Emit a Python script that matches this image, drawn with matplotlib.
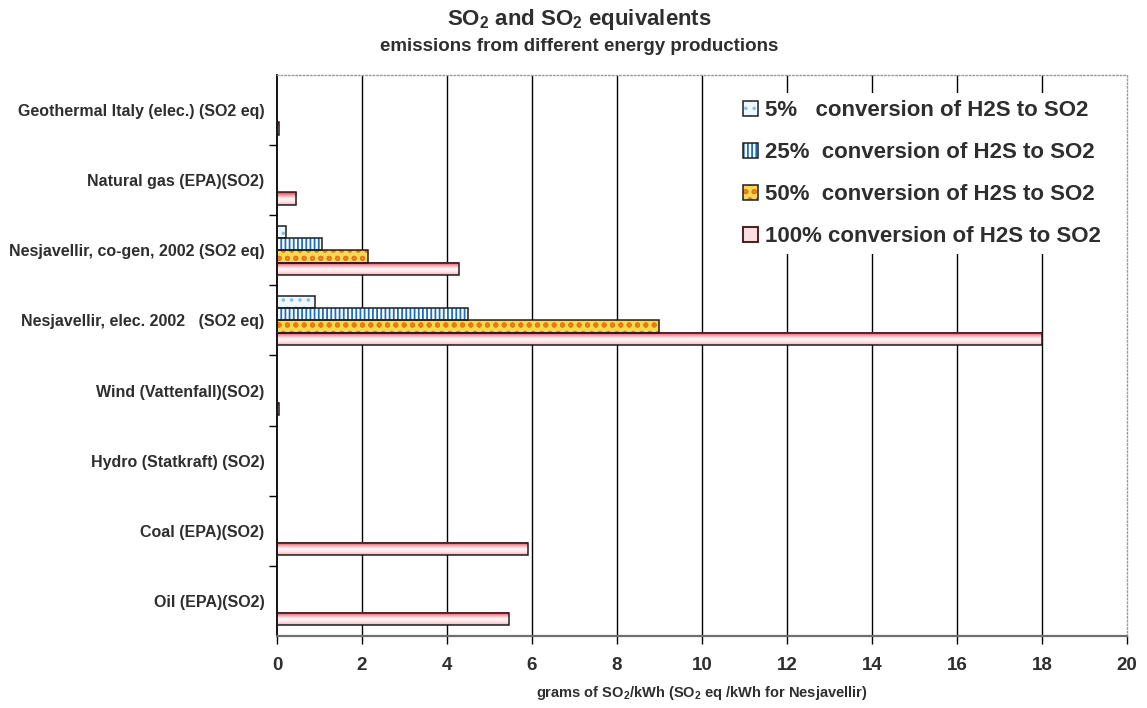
import numpy as np
import matplotlib
matplotlib.use("Agg")
import matplotlib.pyplot as plt
from matplotlib.patches import Patch
from matplotlib.colors import LinearSegmentedColormap

# ---- data -----------------------------------------------------------------
categories = [
    "Geothermal Italy (elec.) (SO2 eq)",
    "Natural gas (EPA)(SO2)",
    "Nesjavellir, co-gen, 2002 (SO2 eq)",
    "Nesjavellir, elec. 2002   (SO2 eq)",
    "Wind (Vattenfall)(SO2)",
    "Hydro (Statkraft) (SO2)",
    "Coal (EPA)(SO2)",
    "Oil (EPA)(SO2)",
]
conv_5 = [None, None, 0.21, 0.90, None, None, None, None]
conv_25 = [None, None, 1.07, 4.50, None, None, None, None]
conv_50 = [None, None, 2.14, 9.00, None, None, None, None]
conv_100 = [0.04, 0.45, 4.28, 18.0, 0.04, None, 5.90, 5.45]
series_labels = [
    "5%   conversion of H2S to SO2",
    "25%  conversion of H2S to SO2",
    "50%  conversion of H2S to SO2",
    "100% conversion of H2S to SO2",
]
x_ticks = [0, 2, 4, 6, 8, 10, 12, 14, 16, 18, 20]

# ---- style ----------------------------------------------------------------
plt.rcParams["font.family"] = ["Liberation Sans", "DejaVu Sans"]
plt.rcParams["font.weight"] = "bold"
plt.rcParams["axes.labelweight"] = "bold"
plt.rcParams["mathtext.fontset"] = "custom"
plt.rcParams["mathtext.rm"] = "Liberation Sans:bold"
plt.rcParams["mathtext.it"] = "Liberation Sans:bold"
plt.rcParams["mathtext.bf"] = "Liberation Sans:bold"
plt.rcParams["hatch.linewidth"] = 1.3
TXT = "#2e2e2e"

fig = plt.figure(figsize=(11.47, 7.08), dpi=100)
ax = fig.add_axes([0.2415, 0.1017, 0.741, 0.7925])

n = len(categories)
ypos = np.arange(n)
h = 0.175
offsets = [-1.5 * h, -0.5 * h, 0.5 * h, 1.5 * h]

hatched = [
    (conv_5, "#eef7fb", "..", "#86c0de"),
    (conv_25, "white", "||||", "#1b6fc2"),
    (conv_50, "#f8d84c", "oo", "#e47a1c"),
]

pink = LinearSegmentedColormap.from_list(
    "pinkband",
    [(0.0, "#e2404e"), (0.2, "#f08c96"), (0.5, "#fff6f7"),
     (0.78, "#fde3e6"), (1.0, "#f2aab2")],
)
grad = np.linspace(0, 1, 64).reshape(-1, 1)

for (vals, face, hatch, hcol), off in zip(hatched, offsets[:3]):
    for yc, v in zip(ypos, vals):
        if v is None:
            continue
        ax.barh(yc + off, v, height=h, color=face, hatch=hatch,
                edgecolor=hcol, linewidth=0, zorder=2)
        ax.barh(yc + off, v, height=h, fill=False, edgecolor="#1e1e1e",
                linewidth=1.1, zorder=3)

for yc, v in zip(ypos, conv_100):
    if v is None:
        continue
    yy = yc + offsets[3]
    ax.imshow(grad, cmap=pink, aspect="auto", origin="upper",
              extent=(0, v, yy + h / 2, yy - h / 2), zorder=2,
              interpolation="bilinear")
    ax.barh(yy, v, height=h, fill=False, edgecolor="#1e1e1e",
            linewidth=1.1, zorder=3)

# vertical gridlines
ax.vlines(x_ticks[1:-1], -0.5, n - 0.5, color="black", linewidth=1.0,
          zorder=1)

ax.set_xlim(x_ticks[0], x_ticks[-1])
ax.set_ylim(n - 0.5, -0.5)

ax.set_xticks(x_ticks)
ax.set_xticklabels([str(t) for t in x_ticks])
ax.tick_params(axis="x", direction="out", length=6, width=1, color="black",
               labelsize=13.5, pad=9, labelcolor=TXT)
ax.set_yticks(ypos)
ax.set_yticklabels(categories)
ax.set_yticks(np.arange(0.5, n - 1, 1.0), minor=True)
ax.tick_params(axis="y", which="major", length=0, pad=9, labelsize=11.5,
               labelcolor=TXT)
ax.tick_params(axis="y", which="minor", direction="out", length=6, width=1,
               color="black")

ax.spines["left"].set_color("black")
ax.spines["left"].set_linewidth(1.3)
ax.spines["bottom"].set_color("#6f6f6f")
ax.spines["bottom"].set_linewidth(1.6)
for s in ("top", "right"):
    ax.spines[s].set_color("#9a9a9a")
    ax.spines[s].set_linestyle(":")
    ax.spines[s].set_linewidth(1.0)

ax.set_xlabel(r"grams of SO$_2$/kWh (SO$_2$ eq /kWh for Nesjavellir)",
              fontsize=10.5, fontweight="bold", color=TXT, labelpad=7)

fig.text(0.505, 0.972, r"SO$_2$ and SO$_2$ equivalents", ha="center",
         va="center", fontsize=16, color=TXT)
fig.text(0.505, 0.935, "emissions from different energy productions",
         ha="center", va="center", fontsize=13.5, color=TXT)

# legend
handles = []
legend_styles = [
    ("#eef7fb", "..", "#86c0de"),
    ("white", "||||", "#1b6fc2"),
    ("#f8d84c", "oo", "#e47a1c"),
    ("#fbe0e3", None, None),
]
for face, hatch, hcol in legend_styles:
    if hatch:
        fillp = Patch(facecolor=face, hatch=hatch, edgecolor=hcol,
                      linewidth=0)
    else:
        fillp = Patch(facecolor=face, edgecolor="#e2404e", linewidth=1.5)
    handles.append((fillp, Patch(fill=False, edgecolor="#1e1e1e",
                                 linewidth=1.1)))

leg = ax.legend(handles, series_labels, loc="upper left",
                bbox_to_anchor=(0.54, 0.967), fontsize=16, frameon=True,
                facecolor="white", edgecolor="none", framealpha=1,
                handlelength=0.7, handleheight=0.7, handletextpad=0.3,
                labelspacing=0.95, borderpad=0.3, borderaxespad=0)
leg.set_zorder(5)
for t in leg.get_texts():
    t.set_color(TXT)

fig.savefig("out.png", dpi=100)
